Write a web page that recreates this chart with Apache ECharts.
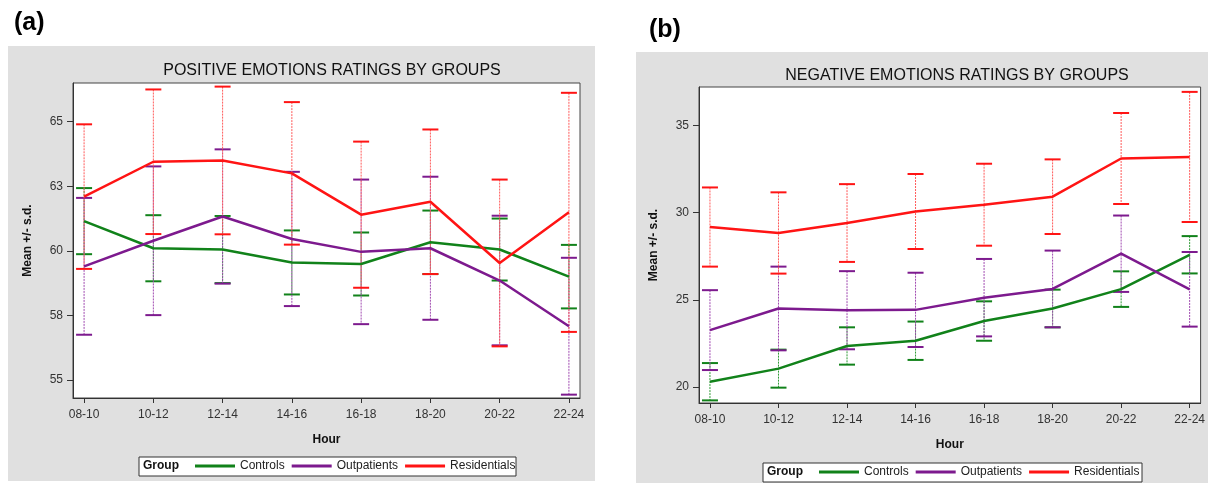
<!DOCTYPE html>
<html>
<head>
<meta charset="utf-8">
<script src="https://cdn.jsdelivr.net/npm/echarts@6/dist/echarts.min.js"></script>
<style>
  html, body { margin: 0; padding: 0; background: #fff; }
  #chart { width: 1208px; height: 483px; }
</style>
</head>
<body>
<div id="chart"></div>
<script>
// categories
const hours = ['08-10', '10-12', '12-14', '14-16', '16-18', '18-20', '20-22', '22-24']
const groups = ['Controls', 'Outpatients', 'Residentials']

// (a) positive emotions: mean and s.d.
const posControlsMean = [61.15, 60.10, 60.05, 59.55, 59.49, 60.33, 60.05, 59.00]
const posControlsSd = [1.28, 1.28, 1.30, 1.24, 1.22, 1.23, 1.20, 1.23]
const posOutMean = [59.40, 60.39, 61.33, 60.46, 59.96, 60.10, 58.85, 57.08]
const posOutSd = [2.65, 2.88, 2.60, 2.60, 2.80, 2.77, 2.51, 2.65]
const posResMean = [62.10, 63.45, 63.50, 63.00, 61.40, 61.90, 59.53, 61.49]
const posResSd = [2.80, 2.80, 2.86, 2.76, 2.83, 2.80, 3.23, 4.63]

// (b) negative emotions: mean and s.d.
const negControlsMean = [20.30, 21.05, 22.35, 22.65, 23.78, 24.50, 25.61, 27.58]
const negControlsSd = [1.07, 1.09, 1.07, 1.10, 1.13, 1.08, 1.02, 1.07]
const negOutMean = [23.26, 24.50, 24.40, 24.42, 25.12, 25.62, 27.64, 25.60]
const negOutSd = [2.29, 2.40, 2.24, 2.13, 2.22, 2.20, 2.19, 2.14]
const negResMean = [29.17, 28.83, 29.40, 30.06, 30.45, 30.91, 33.10, 33.19]
const negResSd = [2.27, 2.33, 2.23, 2.15, 2.35, 2.14, 2.61, 3.73]

// y tick values
const posTicks = [55, 57.5, 60, 62.5, 65]
const negTicks = [20, 25, 30, 35]

const colors = ['#11821a', '#7d1a8e', '#ff1414']
const barColors = ['#2f9a36', '#a04ab0', '#ff5a5a']
const FONT = 'Liberation Sans, Arial, sans-serif'

const chart = echarts.init(document.getElementById('chart'))

function errorBar(k) {
    return function (params, api) {
        const x = api.value(0)
        const lo = api.coord([x, api.value(1)])
        const hi = api.coord([x, api.value(2)])
        const w = 8
        return {
            type: 'group',
            children: [
                { type: 'line', shape: { x1: hi[0], y1: hi[1], x2: lo[0], y2: lo[1] }, style: { stroke: barColors[k], lineWidth: 1, lineDash: [2, 1] } },
                { type: 'line', shape: { x1: hi[0] - w, y1: hi[1], x2: hi[0] + w, y2: hi[1] }, style: { stroke: colors[k], lineWidth: 2 } },
                { type: 'line', shape: { x1: lo[0] - w, y1: lo[1], x2: lo[0] + w, y2: lo[1] }, style: { stroke: colors[k], lineWidth: 2 } }
            ]
        }
    }
}

function xAxis(gi) {
    return {
        type: 'value', gridIndex: gi, min: -0.16, max: 7.16,
        name: 'Hour', nameLocation: 'middle', nameGap: 36,
        nameTextStyle: { fontFamily: FONT, fontWeight: 'bold', fontSize: 12, color: '#111' },
        splitLine: { show: false },
        axisLine: { onZero: false, lineStyle: { color: '#333' } },
        axisTick: { show: true, length: 5, customValues: hours.map((h, i) => i), lineStyle: { color: '#333' } },
        axisLabel: {
            customValues: hours.map((h, i) => i), margin: 11,
            fontFamily: FONT, fontSize: 12, color: '#333',
            formatter: v => hours[Math.round(v)]
        }
    }
}

function yAxis(gi, min, max, ticks) {
    return {
        type: 'value', gridIndex: gi, min: min, max: max,
        name: 'Mean +/- s.d.', nameLocation: 'middle', nameGap: 39,
        nameTextStyle: { fontFamily: FONT, fontWeight: 'bold', fontSize: 12, color: '#111' },
        splitLine: { show: false },
        axisLine: { show: true, onZero: false, lineStyle: { color: '#333' } },
        axisTick: { show: true, length: 6, customValues: ticks, lineStyle: { color: '#333' } },
        axisLabel: {
            customValues: ticks, margin: 10,
            fontFamily: FONT, fontSize: 12, color: '#333',
            formatter: v => String(Math.round(v))
        }
    }
}

function panelSeries(gi, means, sds) {
    const out = []
    groups.forEach((g, k) => {
        out.push({
            name: g + ' s.d.', type: 'custom', xAxisIndex: gi, yAxisIndex: gi, z: 2,
            renderItem: errorBar(k),
            encode: { x: 0, y: [1, 2] },
            data: hours.map((h, i) => [i, means[k][i] - sds[k][i], means[k][i] + sds[k][i]])
        })
    })
    groups.forEach((g, k) => {
        out.push({
            name: g, type: 'line', xAxisIndex: gi, yAxisIndex: gi, z: 3,
            symbol: 'none', lineStyle: { color: colors[k], width: 2.5 }, itemStyle: { color: colors[k] },
            data: hours.map((h, i) => [i, means[k][i]])
        })
    })
    return out
}

function legend(left, top) {
    return {
        left: left, top: top, data: groups, icon: 'rect', itemWidth: 40, itemHeight: 3,
        itemGap: 7, padding: 0, selectedMode: false,
        textStyle: { fontFamily: FONT, fontSize: 12, color: '#222' }
    }
}

const option = {
    backgroundColor: '#fff',
    animation: false,
    title: [
        { text: 'POSITIVE EMOTIONS RATINGS BY GROUPS', left: 327, top: 58, textAlign: 'center', textStyle: { fontFamily: FONT, fontSize: 16, fontWeight: 'normal', color: '#111' } },
        { text: 'NEGATIVE EMOTIONS RATINGS BY GROUPS', left: 952, top: 63, textAlign: 'center', textStyle: { fontFamily: FONT, fontSize: 16, fontWeight: 'normal', color: '#111' } }
    ],
    graphic: [
        { type: 'rect', z: -10, shape: { x: 8, y: 46, width: 587, height: 435 }, style: { fill: '#e0e0e0' } },
        { type: 'rect', z: -10, shape: { x: 636, y: 52, width: 572, height: 431 }, style: { fill: '#e0e0e0' } },
        { type: 'text', x: 14, y: 11, style: { text: '(a)', font: 'bold 25px ' + FONT, fill: '#000' } },
        { type: 'text', x: 649, y: 18, style: { text: '(b)', font: 'bold 25px ' + FONT, fill: '#000' } },
        { type: 'rect', z: -5, shape: { x: 139, y: 457, width: 377, height: 19 }, style: { fill: '#fff', stroke: '#333', lineWidth: 1 } },
        { type: 'rect', z: -5, shape: { x: 763, y: 463, width: 379, height: 19 }, style: { fill: '#fff', stroke: '#333', lineWidth: 1 } },
        { type: 'text', x: 143, y: 460, style: { text: 'Group', font: 'bold 12px ' + FONT, fill: '#111' } },
        { type: 'text', x: 767, y: 466, style: { text: 'Group', font: 'bold 12px ' + FONT, fill: '#111' } }
    ],
    legend: [legend(195, 460), legend(819, 466)],
    grid: [
        { left: 73, top: 83, width: 507, height: 315, show: true, backgroundColor: '#fff', borderColor: '#444', borderWidth: 1 },
        { left: 699, top: 87, width: 507, height: 316, show: true, backgroundColor: '#fff', borderColor: '#444', borderWidth: 1 }
    ],
    xAxis: [xAxis(0), xAxis(1)],
    yAxis: [yAxis(0, 54.3, 66.5, posTicks), yAxis(1, 19.08, 37.2, negTicks)],
    series: [
        ...panelSeries(0, [posControlsMean, posOutMean, posResMean], [posControlsSd, posOutSd, posResSd]),
        ...panelSeries(1, [negControlsMean, negOutMean, negResMean], [negControlsSd, negOutSd, negResSd])
    ]
}

chart.setOption(option)
</script>
</body>
</html>
